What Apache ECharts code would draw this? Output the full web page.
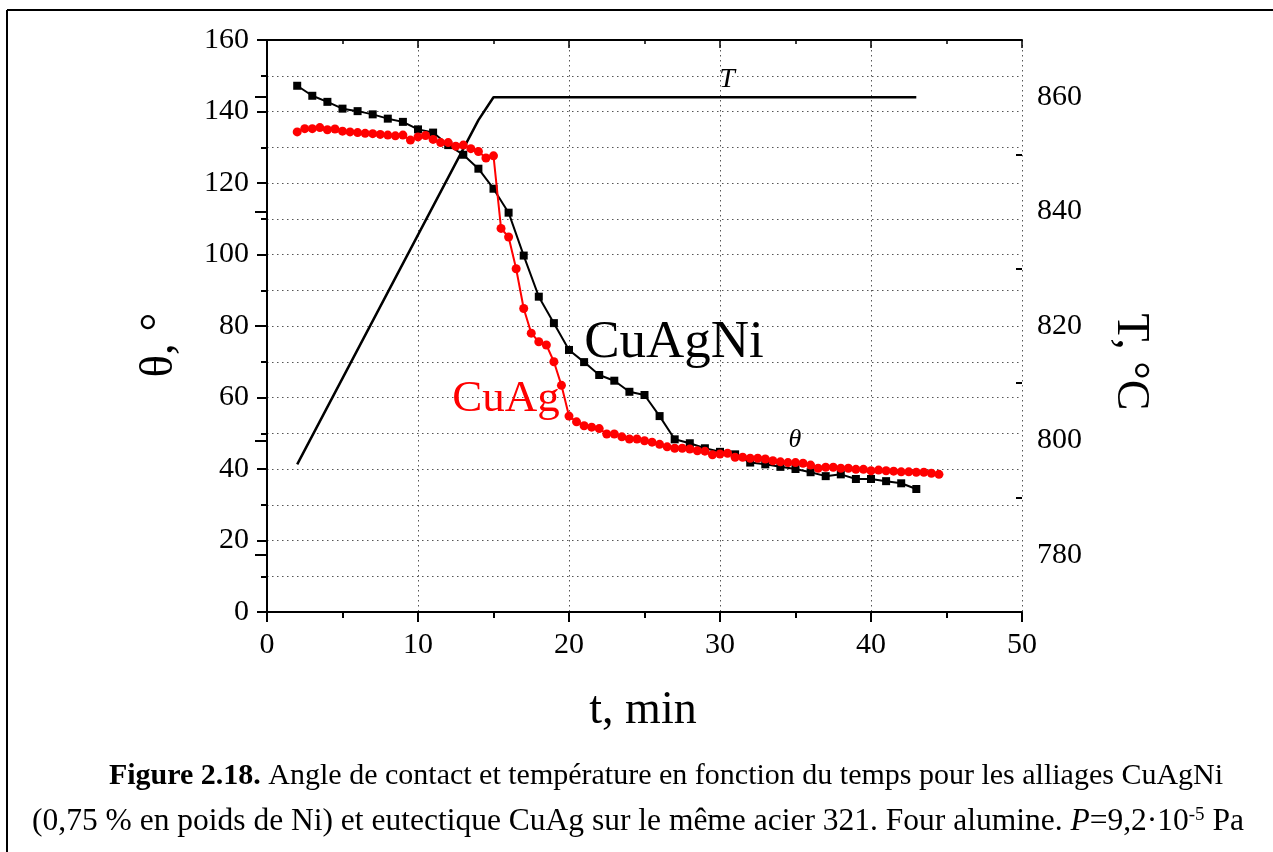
<!DOCTYPE html>
<html><head><meta charset="utf-8">
<script src="https://cdn.jsdelivr.net/npm/echarts@6/dist/echarts.min.js"></script>
<style>html,body{margin:0;padding:0;background:#fff}#c{width:1273px;height:852px}</style>
</head><body><div id="c"></div>
<script>
// CuAgNi contact angle (black squares)
const tNi = [2,3,4,5,6,7,8,9,10,11,12,13,14,15,16,17,18,19,20,21,22,23,24,25,26,27,28,29,30,31,32,33,34,35,36,37,38,39,40,41,42,43];
const thetaNi = [147.2,144.4,142.7,140.8,140.1,139.2,138.0,137.1,135.0,134.1,130.6,127.9,124.0,118.4,111.7,99.7,88.2,80.8,73.3,69.9,66.3,64.7,61.6,60.7,54.8,48.3,47.2,45.8,44.8,44.1,41.8,41.3,40.6,40.0,39.1,38.0,38.5,37.2,37.2,36.6,36.0,34.4];
// CuAg contact angle (red circles)
const tAg = [2,2.5,3,3.5,4,4.5,5,5.5,6,6.5,7,7.5,8,8.5,9,9.5,10,10.5,11,11.5,12,12.5,13,13.5,14,14.5,15,15.5,16,16.5,17,17.5,18,18.5,19,19.5,20,20.5,21,21.5,22,22.5,23,23.5,24,24.5,25,25.5,26,26.5,27,27.5,28,28.5,29,29.5,30,30.5,31,31.5,32,32.5,33,33.5,34,34.5,35,35.5,36,36.5,37,37.5,38,38.5,39,39.5,40,40.5,41,41.5,42,42.5,43,43.5,44,44.5];
const thetaAg = [134.3,135.2,135.2,135.5,134.9,135.1,134.5,134.3,134.1,133.9,133.8,133.6,133.4,133.2,133.4,132.0,132.9,133.3,132.2,131.3,131.3,130.3,130.6,129.6,128.8,127.0,127.6,107.3,104.9,96.0,84.9,78.0,75.6,74.7,70.0,63.4,54.8,53.2,52.1,51.7,51.3,49.8,49.8,49.0,48.4,48.4,47.9,47.5,46.9,46.2,45.8,45.8,45.6,45.1,45.0,44.0,44.2,44.4,43.3,43.3,43.0,43.0,42.8,42.3,42.0,41.8,41.8,41.6,41.1,40.2,40.5,40.5,40.2,40.2,39.9,39.9,39.5,39.7,39.5,39.4,39.2,39.2,39.1,39.1,38.8,38.5];
// Temperature programme
const tT = [2,14,15,43];
const tempT = [795.8,856,860,860];
// Tick labels
const rightMajor = [780,800,820,840,860];
const rightMinor = [790,810,830,850];

const FONT = '"Liberation Serif","Times New Roman",serif';
const dotted = {color:'#555', width:1, type:[1.5,3.5]};
const pairs = (xs, ys) => xs.map((x,i)=>[x,ys[i]]);

const chart = echarts.init(document.getElementById('c'), null, {renderer:'canvas'});
chart.setOption({
  animation:false,
  backgroundColor:'#fff',
  grid:{left:267, top:40, width:755, height:572, containLabel:false},
  xAxis:[
    {type:'value', position:'bottom', min:0, max:50, interval:10,
     axisLine:{show:true, lineStyle:{color:'#000', width:2}},
     axisTick:{show:true, inside:false, length:10, lineStyle:{color:'#000', width:2}},
     minorTick:{show:true, splitNumber:2, length:6, lineStyle:{color:'#000', width:2}},
     axisLabel:{color:'#000', fontFamily:FONT, fontSize:30, margin:18},
     splitLine:{show:true, lineStyle:dotted}},
    {type:'value', position:'top', min:0, max:50, interval:10,
     axisLine:{show:true, lineStyle:{color:'#000', width:2}},
     axisTick:{show:true, inside:true, length:8, lineStyle:{color:'#000', width:1.5}},
     minorTick:{show:true, splitNumber:2, length:4, lineStyle:{color:'#000', width:1.5}},
     axisLabel:{show:false}, splitLine:{show:false}}
  ],
  yAxis:[
    {type:'value', position:'left', min:0, max:160, interval:20,
     axisLine:{show:true, lineStyle:{color:'#000', width:2}},
     axisTick:{show:true, inside:false, length:10, lineStyle:{color:'#000', width:2}},
     minorTick:{show:true, splitNumber:2, length:6, lineStyle:{color:'#000', width:2}},
     axisLabel:{color:'#000', fontFamily:FONT, fontSize:30, margin:18},
     splitLine:{show:true, lineStyle:dotted},
     minorSplitLine:{show:true, lineStyle:dotted}},
    {type:'value', position:'right', min:770, max:870,
     axisLine:{show:true, lineStyle:{color:'#000', width:2}},
     axisTick:{show:true, inside:true, length:12, customValues:rightMajor, lineStyle:{color:'#000', width:2}},
     axisLabel:{color:'#000', fontFamily:FONT, fontSize:30, margin:15, customValues:rightMajor},
     splitLine:{show:false}},
    {type:'value', position:'right', min:770, max:870,
     axisLine:{show:false},
     axisTick:{show:true, inside:true, length:6, customValues:rightMinor, lineStyle:{color:'#000', width:2}},
     axisLabel:{show:false}, splitLine:{show:false}}
  ],
  series:[
    {type:'line', name:'T', xAxisIndex:0, yAxisIndex:1, data:pairs(tT,tempT),
     showSymbol:false, symbol:'none', lineStyle:{color:'#000', width:2.5}, z:2},
    {type:'line', name:'CuAgNi', xAxisIndex:0, yAxisIndex:0, data:pairs(tNi,thetaNi),
     symbol:'rect', symbolSize:8, itemStyle:{color:'#000'}, lineStyle:{color:'#000', width:2}, z:3},
    {type:'line', name:'CuAg', xAxisIndex:0, yAxisIndex:0, data:pairs(tAg,thetaAg),
     symbol:'circle', symbolSize:9, itemStyle:{color:'#ff0000'}, lineStyle:{color:'#ff0000', width:2}, z:4}
  ],
  graphic:[
    {type:'line', shape:{x1:7, y1:10, x2:1273, y2:10}, style:{stroke:'#000', lineWidth:2}},
    {type:'line', shape:{x1:7, y1:10, x2:7, y2:852}, style:{stroke:'#000', lineWidth:2}},
    {type:'text', x:674, y:343, style:{text:'CuAgNi', font:'53px '+FONT, fill:'#000', textAlign:'center', textVerticalAlign:'middle'}, z:10},
    {type:'text', x:506, y:399, style:{text:'CuAg', font:'45px '+FONT, fill:'#ff0000', textAlign:'center', textVerticalAlign:'middle'}, z:10},
    {type:'text', x:795, y:440, style:{text:'θ', font:'italic 26px '+FONT, fill:'#000', textAlign:'center', textVerticalAlign:'middle'}, z:10},
    {type:'text', x:727, y:80, style:{text:'T', font:'italic 28px '+FONT, fill:'#000', textAlign:'center', textVerticalAlign:'middle'}, z:10},
    {type:'text', x:643, y:711, style:{text:'t, min', font:'46px '+FONT, fill:'#000', textAlign:'center', textVerticalAlign:'middle'}},
    {type:'text', x:160, y:345, rotation:Math.PI/2, style:{text:'θ, °', font:'47px '+FONT, fill:'#000', textAlign:'center', textVerticalAlign:'middle'}},
    {type:'text', x:1130, y:362, rotation:-Math.PI/2, style:{text:'T, °C', font:'46px '+FONT, fill:'#000', textAlign:'center', textVerticalAlign:'middle'}},
    {type:'text', x:666, y:776, style:{
      text:'{b|Figure 2.18.} Angle de contact et température en fonction du temps pour les alliages CuAgNi',
      font:'30px '+FONT, fill:'#000', textAlign:'center', textVerticalAlign:'middle',
      rich:{b:{fontFamily:FONT, fontSize:30, fontWeight:'bold'}}}},
    {type:'text', x:638, y:822, style:{
      text:'(0,75 % en poids de Ni) et eutectique CuAg sur le même acier 321. Four alumine. {i|P}=9,2·10{sup|-5} Pa',
      font:'31.5px '+FONT, fill:'#000', textAlign:'center', textVerticalAlign:'middle',
      rich:{i:{fontFamily:FONT, fontSize:31.5, fontStyle:'italic'}, sup:{fontFamily:FONT, fontSize:19, verticalAlign:'top'}}}}
  ]
});
</script></body></html>
